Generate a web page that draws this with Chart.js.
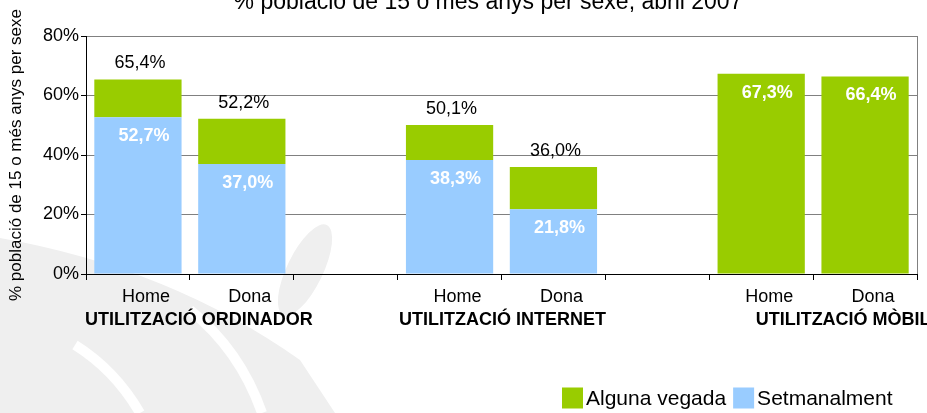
<!DOCTYPE html>
<html>
<head>
<meta charset="utf-8">
<script src="https://cdn.jsdelivr.net/npm/chart.js@4"></script>
<style>
  html, body { margin: 0; padding: 0; background: #fff; }
  #wrap { position: relative; width: 927px; height: 413px; overflow: hidden; }
</style>
</head>
<body>
<div id="wrap"><canvas id="chart" width="927" height="413"></canvas></div>
<script>
// dades llegides del gràfic
const categories = ['Home', 'Dona', '', 'Home', 'Dona', '', 'Home', 'Dona'];
const groups = ['UTILITZACIÓ ORDINADOR', 'UTILITZACIÓ INTERNET', 'UTILITZACIÓ MÒBIL'];
const groupStart = [0, 3, 6];
const setmanalment = [52.7, 37.0, null, 38.3, 21.8, null, null, null];
const algunaVegada = [12.7, 15.2, null, 11.8, 14.2, null, 67.3, 66.4];
const yTicks = [0, 20, 40, 60, 80];
const chartTitle = '% població de 15 o més anys per sexe, abril 2007';
const yTitle = '% població de 15 o més anys per sexe';

const FONT = '"Liberation Sans", Arial, sans-serif';
const GREEN = '#99CC00';
const BLUE = '#99CCFF';

Chart.defaults.font.family = FONT;
Chart.defaults.font.size = 18;
Chart.defaults.color = '#000';

function fmt(v) {
    return v.toFixed(1).replace('.', ',') + '%';
}

// fons: marca d'aigua gris clar
const watermark = {
    id: 'watermark',
    beforeDraw(chart) {
        const ctx = chart.ctx;
        ctx.save();
        ctx.fillStyle = '#efefef';
        ctx.beginPath();
        ctx.moveTo(0, 238);
        ctx.quadraticCurveTo(170, 268, 300, 360);
        ctx.lineTo(335, 413);
        ctx.lineTo(0, 413);
        ctx.closePath();
        ctx.fill();
        ctx.beginPath();
        ctx.ellipse(305, 270, 18, 50, 0.45, 0, Math.PI * 2);
        ctx.fill();
        ctx.strokeStyle = '#ffffff';
        ctx.lineWidth = 10;
        ctx.beginPath();
        ctx.moveTo(75, 345);
        ctx.quadraticCurveTo(115, 370, 140, 413);
        ctx.stroke();
        ctx.beginPath();
        ctx.moveTo(190, 310);
        ctx.quadraticCurveTo(240, 350, 262, 413);
        ctx.stroke();
        ctx.restore();
    }
};

// títol superior (tallat a dalt, com a l'original)
const topTitle = {
    id: 'topTitle',
    afterDraw(chart) {
        const ctx = chart.ctx;
        ctx.save();
        ctx.font = '23px ' + FONT;
        ctx.fillStyle = '#000';
        ctx.textAlign = 'center';
        ctx.textBaseline = 'alphabetic';
        ctx.fillText(chartTitle, 488, 9);
        ctx.restore();
    }
};

// etiquetes de valor
const valueLabels = {
    id: 'valueLabels',
    afterDatasetsDraw(chart) {
        const ctx = chart.ctx;
        const low = chart.getDatasetMeta(0).data;
        const high = chart.getDatasetMeta(1).data;
        ctx.save();
        ctx.textAlign = 'center';
        ctx.textBaseline = 'middle';
        categories.forEach((c, i) => {
            if (setmanalment[i] != null) {
                ctx.font = 'bold 18px ' + FONT;
                ctx.fillStyle = '#fff';
                ctx.fillText(fmt(setmanalment[i]), low[i].x + 6, low[i].y + 19);
                ctx.font = '18px ' + FONT;
                ctx.fillStyle = '#000';
                ctx.fillText(fmt(setmanalment[i] + algunaVegada[i]), high[i].x + 2, high[i].y - 16);
            } else if (algunaVegada[i] != null) {
                ctx.font = 'bold 18px ' + FONT;
                ctx.fillStyle = '#fff';
                ctx.fillText(fmt(algunaVegada[i]), high[i].x + 6, high[i].y + 19);
            }
        });
        ctx.restore();
    }
};

// vora dreta, etiquetes de grup i llegenda
const extras = {
    id: 'extras',
    afterDraw(chart) {
        const ctx = chart.ctx;
        const area = chart.chartArea;
        const x = chart.scales.x;
        ctx.save();
        ctx.strokeStyle = '#808080';
        ctx.lineWidth = 1;
        ctx.beginPath();
        ctx.moveTo(Math.round(area.right) + 0.5, area.top);
        ctx.lineTo(Math.round(area.right) + 0.5, area.bottom);
        ctx.stroke();

        const shift = [9, 1, 30];
        ctx.font = 'bold 18px ' + FONT;
        ctx.fillStyle = '#000';
        ctx.textAlign = 'center';
        ctx.textBaseline = 'middle';
        groups.forEach((g, k) => {
            const i = groupStart[k];
            const cx = (x.getPixelForValue(i) + x.getPixelForValue(i + 1)) / 2;
            ctx.fillText(g, cx + shift[k], area.bottom + 46);
        });

        // llegenda
        let lx = 562;
        const ly = 398;
        ctx.font = '21px ' + FONT;
        ctx.textAlign = 'left';
        chart.data.datasets.slice().reverse().forEach(ds => {
            ctx.fillStyle = ds.backgroundColor;
            ctx.fillRect(lx, ly - 10.5, 21, 21);
            ctx.fillStyle = '#000';
            ctx.fillText(ds.label, lx + 24, ly + 1);
            lx += 24 + ctx.measureText(ds.label).width + 7;
        });
        ctx.restore();
    }
};

const ctx = document.getElementById('chart');

const chart = new Chart(ctx, {
    type: 'bar',
    data: {
        labels: categories,
        datasets: [
            { label: 'Setmanalment', data: setmanalment, backgroundColor: BLUE },
            { label: 'Alguna vegada', data: algunaVegada, backgroundColor: GREEN }
        ]
    },
    options: {
        responsive: false,
        devicePixelRatio: 1,
        animation: false,
        barPercentage: 0.84,
        categoryPercentage: 1.0,
        layout: { padding: { left: 0, top: 36, right: 10, bottom: 0 } },
        scales: {
            x: {
                stacked: true,
                grid: { display: true, drawOnChartArea: false, offset: true, tickLength: 6, color: '#000', tickColor: '#000' },
                border: { color: '#000' },
                ticks: { autoSkip: false, maxRotation: 0, padding: 6, labelOffset: 8, color: '#000' },
                afterFit(s) { s.height = 139; }
            },
            y: {
                stacked: true,
                min: 0,
                max: 80,
                afterBuildTicks(s) { s.ticks = yTicks.map(v => ({ value: v })); },
                grid: { color: '#808080', tickLength: 5, tickColor: '#000' },
                border: { color: '#000' },
                ticks: { padding: 2, color: '#000', callback: v => v + '%' },
                title: { display: true, text: yTitle, color: '#000', font: { size: 17 }, padding: { top: 6, bottom: 0 } },
                afterFit(s) { s.width = 86; }
            }
        },
        plugins: {
            legend: { display: false },
            title: { display: false },
            tooltip: { enabled: false }
        }
    },
    plugins: [watermark, valueLabels, topTitle, extras]
});
</script>
</body>
</html>
